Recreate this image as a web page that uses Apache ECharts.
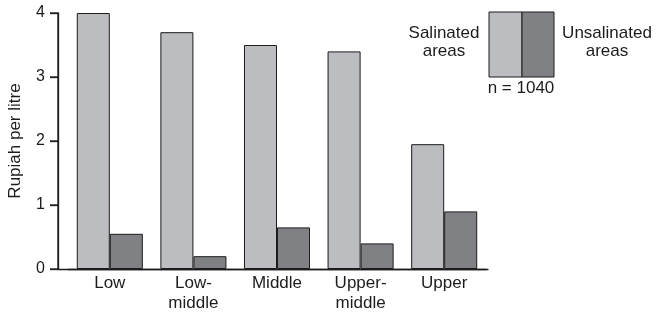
<!DOCTYPE html>
<html lang="en">
<head>
    <meta charset="UTF-8">
    <title>Rupiah per litre</title>
    <script src="https://cdn.jsdelivr.net/npm/echarts@6/dist/echarts.min.js"></script>
</head>
<body style="height: 100%; margin: 0">
<div id="chart" style="height : 315px; width: 657px"></div>

<script>
    // income groups
    let categories = ['Low', 'Low-\nmiddle', 'Middle', 'Upper-\nmiddle', 'Upper'];
    let salinated = [4.0, 3.7, 3.5, 3.4, 1.95];
    let unsalinated = [0.55, 0.2, 0.65, 0.4, 0.9];
    let yTicks = [0, 1, 2, 3, 4];

    let lightGrey = '#bcbdc1';
    let darkGrey = '#808185';
    let ink = '#1c1c1c';
    let font = 'Liberation Sans';

    let myChart = echarts.init(document.getElementById('chart'));

    let legendGraphics = [
        {type: 'text', x: 15, y: 141, rotation: Math.PI / 2,
            style: {text: 'Rupiah per litre', font: '17px ' + font, fill: ink,
                textAlign: 'center', textVerticalAlign: 'middle'}},
        {type: 'rect', shape: {x: 489, y: 12, width: 33, height: 65},
            style: {fill: lightGrey, stroke: ink, lineWidth: 1}},
        {type: 'rect', shape: {x: 522, y: 12, width: 32, height: 65},
            style: {fill: darkGrey, stroke: ink, lineWidth: 1}},
        {type: 'text', x: 444, y: 24,
            style: {text: 'Salinated\nareas', font: '17px ' + font, fill: ink,
                textAlign: 'center', lineHeight: 18}},
        {type: 'text', x: 607, y: 24,
            style: {text: 'Unsalinated\nareas', font: '17px ' + font, fill: ink,
                textAlign: 'center', lineHeight: 18}},
        {type: 'text', x: 521, y: 80,
            style: {text: 'n = 1040', font: '17px ' + font, fill: ink,
                textAlign: 'center'}}
    ];

    let option = {
        animation: false,
        textStyle: {fontFamily: font, color: ink},
        grid: [
            // bars
            {left: 68, right: 171, top: 13, bottom: 46},
            // axis frame
            {left: 58, right: 169, top: 13, bottom: 46}
        ],
        xAxis: [
            {
                type: 'category',
                gridIndex: 0,
                data: categories,
                axisLine: {show: true, lineStyle: {color: ink, width: 1.3}},
                axisTick: {show: false},
                axisLabel: {color: ink, fontSize: 17, lineHeight: 20, margin: 4}
            },
            {
                type: 'value',
                gridIndex: 1,
                min: 0,
                max: 1,
                axisLine: {show: true, onZero: false, lineStyle: {color: ink, width: 1.3}},
                axisTick: {show: false},
                axisLabel: {show: false},
                splitLine: {show: false}
            }
        ],
        yAxis: [
            {
                type: 'value',
                gridIndex: 0,
                min: yTicks[0],
                max: yTicks[yTicks.length - 1],
                interval: 1,
                offset: 10,
                axisLine: {show: true, onZero: false, lineStyle: {color: ink, width: 1.3}},
                axisTick: {show: true, length: 8, lineStyle: {color: ink, width: 1.3}},
                axisLabel: {fontSize: 16, color: ink, margin: 13},
                splitLine: {show: false}
            },
            {
                type: 'value',
                gridIndex: 1,
                min: yTicks[0],
                max: yTicks[yTicks.length - 1],
                show: false
            }
        ],
        series: [
            {
                name: 'Salinated areas',
                type: 'bar',
                data: salinated,
                barGap: '0%',
                barCategoryGap: '21%',
                itemStyle: {color: lightGrey, borderColor: ink, borderWidth: 1}
            },
            {
                name: 'Unsalinated areas',
                type: 'bar',
                data: unsalinated,
                barGap: '0%',
                barCategoryGap: '21%',
                itemStyle: {color: darkGrey, borderColor: ink, borderWidth: 1}
            }
        ],
        graphic: legendGraphics
    };
    myChart.setOption(option);

    // y axis line and ticks, placed through the chart's own scales
    let axisX = myChart.convertToPixel({xAxisIndex: 1}, 0);
    let yTop = myChart.convertToPixel({yAxisIndex: 0}, yTicks[yTicks.length - 1]);
    let yBottom = myChart.convertToPixel({yAxisIndex: 0}, yTicks[0]);
    let axisGraphics = [
        {type: 'line', shape: {x1: axisX, y1: yTop, x2: axisX, y2: yBottom},
            style: {stroke: ink, lineWidth: 1.3}}
    ];
    yTicks.forEach(function (t) {
        let py = myChart.convertToPixel({yAxisIndex: 0}, t);
        axisGraphics.push({type: 'line', shape: {x1: axisX - 8, y1: py, x2: axisX, y2: py},
            style: {stroke: ink, lineWidth: 1.3}});
    });
    myChart.setOption({graphic: legendGraphics.concat(axisGraphics)});
</script>
</body>
</html>
